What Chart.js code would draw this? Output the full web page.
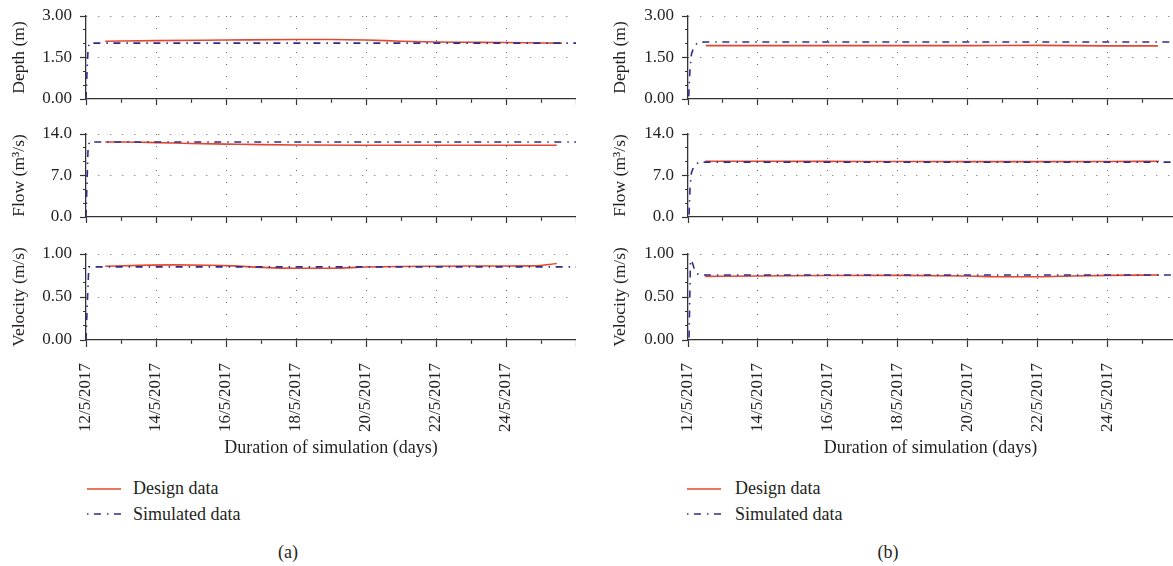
<!DOCTYPE html>
<html>
<head>
<meta charset="utf-8">
<script src="https://cdn.jsdelivr.net/npm/chart.js@4/dist/chart.umd.min.js"></script>
<style>
html,body{margin:0;padding:0;background:#fff;width:1173px;height:566px;overflow:hidden;}
body{position:relative;font-family:"Liberation Serif",serif;color:#231f20;}
canvas{position:absolute;}
.t{position:absolute;font-size:18px;line-height:20px;white-space:nowrap;}
.cap{position:absolute;font-size:18px;line-height:20px;width:60px;text-align:center;}
svg{position:absolute;}
</style>
</head>
<body>
<canvas id="aDepth" width="576" height="105" style="left:0;top:0"></canvas>
<canvas id="aFlow" width="576" height="105" style="left:0;top:118px"></canvas>
<canvas id="aVel" width="576" height="222" style="left:0;top:238px"></canvas>
<canvas id="bDepth" width="572" height="105" style="left:601px;top:0"></canvas>
<canvas id="bFlow" width="572" height="105" style="left:601px;top:118px"></canvas>
<canvas id="bVel" width="572" height="222" style="left:601px;top:238px"></canvas>

<svg style="left:86px;top:478px" width="36" height="44">
  <line x1="1" y1="11" x2="35" y2="11" stroke="#e4472f" stroke-width="1.6"/>
  <line x1="1" y1="36" x2="35" y2="36" stroke="#302c8c" stroke-width="1.6" stroke-dasharray="1.5 5.5 7 6"/>
</svg>
<div class="t" style="left:133px;top:478px">Design data</div>
<div class="t" style="left:133px;top:504px">Simulated data</div>
<div class="cap" style="left:258px;top:542px">(a)</div>

<svg style="left:686px;top:478px" width="36" height="44">
  <line x1="1" y1="11" x2="35" y2="11" stroke="#e4472f" stroke-width="1.6"/>
  <line x1="1" y1="36" x2="35" y2="36" stroke="#302c8c" stroke-width="1.6" stroke-dasharray="1.5 5.5 7 6"/>
</svg>
<div class="t" style="left:735px;top:478px">Design data</div>
<div class="t" style="left:735px;top:504px">Simulated data</div>
<div class="cap" style="left:858px;top:542px">(b)</div>

<script>
// ---- Tick labels (every 2 days, day offset from 12/5/2017) ----
const xTickLabels = ['12/5/2017','14/5/2017','16/5/2017','18/5/2017','20/5/2017','22/5/2017','24/5/2017'];

// ---- Panel (a): days since 12/5/2017 and values ----
const aDepthDesignDays = [0.55, 2, 4, 6, 7, 8, 9, 10, 11, 12, 13.6];
const aDepthDesign     = [2.09, 2.11, 2.13, 2.15, 2.15, 2.13, 2.09, 2.06, 2.05, 2.04, 2.02];
const aDepthSimDays    = [0, 0.03, 0.06, 0.1, 14];
const aDepthSim        = [0, 1.0, 1.85, 2.02, 2.02];

const aFlowDesignDays  = [0.55, 1, 2, 3, 4, 5, 6, 8, 10, 12, 13.45];
const aFlowDesign      = [12.65, 12.65, 12.55, 12.4, 12.3, 12.2, 12.15, 12.1, 12.1, 12.1, 12.1];
const aFlowSimDays     = [0, 0.03, 0.06, 0.1, 14];
const aFlowSim         = [0, 6.0, 11.8, 12.65, 12.65];

const aVelDesignDays   = [0.55, 1.5, 2.5, 3.5, 4.2, 5, 6, 7, 8, 9, 10, 11, 12, 12.8, 13.45];
const aVelDesign       = [0.857, 0.868, 0.874, 0.870, 0.862, 0.845, 0.834, 0.834, 0.848, 0.855, 0.858, 0.860, 0.861, 0.862, 0.890];
const aVelSimDays      = [0, 0.04, 0.08, 14];
const aVelSim          = [0, 0.45, 0.85, 0.85];

// ---- Panel (b) ----
const bDepthDesignDays = [0.51, 2, 4, 6, 8, 10, 12, 13.43];
const bDepthDesign     = [1.93, 1.93, 1.93, 1.93, 1.93, 1.94, 1.92, 1.92];
const bDepthSimDays    = [0.02, 0.06, 0.1, 0.17, 0.25, 0.34, 0.5, 13.86];
const bDepthSim        = [0.1, 1.15, 1.63, 1.88, 2.0, 2.05, 2.06, 2.06];

const bFlowDesignDays  = [0.49, 2, 4, 6, 8, 10, 12, 13.46];
const bFlowDesign      = [9.40, 9.40, 9.38, 9.36, 9.34, 9.34, 9.36, 9.40];
const bFlowSimDays     = [0.03, 0.06, 0.1, 0.17, 0.3, 0.5, 13.86];
const bFlowSim         = [0.4, 5.2, 7.5, 8.6, 9.2, 9.25, 9.25];

const bVelDesignDays   = [0.49, 2, 4, 6, 8, 9, 10, 11, 12, 13.46];
const bVelDesign       = [0.740, 0.745, 0.750, 0.752, 0.745, 0.735, 0.735, 0.745, 0.752, 0.755];
const bVelSimDays      = [0.03, 0.07, 0.1, 0.17, 0.25, 0.4, 13.86];
const bVelSim          = [0.03, 0.92, 0.93, 0.84, 0.77, 0.755, 0.755];

// ---- Styling ----
const FAMILY = 'Liberation Serif';
const TEXT = '#231f20';
const AXIS = '#333333';
const DOT = '#666666';
const RED = '#e4472f';
const SIM = '#302c8c';
const NONE = 'rgba(0,0,0,0)';
Chart.defaults.font.family = FAMILY;
Chart.defaults.color = TEXT;

function pts(xs, ys) { return xs.map((x, i) => ({ x: x, y: ys[i] })); }

function build(id, p) {
  return new Chart(document.getElementById(id), {
    type: 'line',
    data: {
      datasets: [
        { label: 'Simulated data', data: pts(p.simX, p.simY), borderColor: SIM, borderWidth: 1.6,
          borderDash: [7, 6, 1.5, 5.5], pointRadius: 0, tension: 0, fill: false },
        { label: 'Design data', data: pts(p.desX, p.desY), borderColor: RED, borderWidth: 1.6,
          pointRadius: 0, cubicInterpolationMode: 'monotone', fill: false }
      ]
    },
    options: {
      responsive: false, animation: false, events: [],
      layout: { padding: { top: 16, right: 0, bottom: 0, left: 0 } },
      plugins: { legend: { display: false }, tooltip: { enabled: false } },
      scales: {
        x: {
          type: 'linear', min: 0, max: p.xMax, bounds: 'data', position: 'bottom',
          afterFit: s => { s.height = p.xH; s.paddingLeft = 0; s.paddingRight = 0; },
          border: { display: true, color: AXIS, width: 1.3, dash: [1, 11] },
          grid: {
            color: c => (c.tick && c.tick.value % 2 === 0 && c.tick.value > 0 && c.tick.value < 14) ? DOT : NONE,
            lineWidth: 1, drawTicks: true, tickLength: 7, tickColor: AXIS, tickWidth: 1.2,
            tickBorderDash: c => (c.tick && c.tick.value % 2 === 0) ? [] : [3.5, 100]
          },
          ticks: {
            display: p.showX, stepSize: 1, autoSkip: false, maxRotation: 90, minRotation: 90,
            padding: 16, includeBounds: false, color: TEXT, font: { family: FAMILY, size: 17 },
            callback: v => (Number.isInteger(v) && v % 2 === 0 && v / 2 < xTickLabels.length) ? xTickLabels[v / 2] : ''
          },
          title: {
            display: p.showX, text: 'Duration of simulation (days)', color: TEXT,
            font: { family: FAMILY, size: 18 }, padding: { top: 4, bottom: 1 }
          }
        },
        y: {
          min: p.yMin, max: p.yMax,
          afterFit: s => { s.width = p.yW; s.paddingTop = 0; s.paddingBottom = 0; },
          border: { display: true, color: AXIS, width: 1.3, dash: [1, 11] },
          grid: {
            color: c => (c.index === 3 || c.index === 6) ? DOT : NONE,
            lineWidth: 1, tickLength: 6, tickColor: AXIS, tickWidth: 1.2,
            tickBorderDash: c => (c.index % 3 === 0) ? [] : [0, 3, 3, 100]
          },
          ticks: {
            count: 7, autoSkip: false, padding: 8, color: TEXT, font: { family: FAMILY, size: 17 },
            callback: (v, i) => (i % 3 === 0) ? v.toFixed(p.dec) : ''
          },
          title: {
            display: true, text: p.yTitle, color: TEXT, font: { family: FAMILY, size: 17.5 },
            padding: { top: 8.5, bottom: 0 }
          }
        }
      }
    }
  });
}

const A_MAX = 14, B_MAX = 13.86;
build('aDepth', { xMax: A_MAX, xH: 6, showX: false, yMin: 0, yMax: 3, dec: 2, yW: 86, yTitle: 'Depth (m)',
  desX: aDepthDesignDays, desY: aDepthDesign, simX: aDepthSimDays, simY: aDepthSim });
build('aFlow', { xMax: A_MAX, xH: 6, showX: false, yMin: 0, yMax: 14, dec: 1, yW: 86, yTitle: 'Flow (m\u00B3/s)',
  desX: aFlowDesignDays, desY: aFlowDesign, simX: aFlowSimDays, simY: aFlowSim });
build('aVel', { xMax: A_MAX, xH: 120, showX: true, yMin: 0, yMax: 1, dec: 2, yW: 86, yTitle: 'Velocity (m/s)',
  desX: aVelDesignDays, desY: aVelDesign, simX: aVelSimDays, simY: aVelSim });
build('bDepth', { xMax: B_MAX, xH: 6, showX: false, yMin: 0, yMax: 3, dec: 2, yW: 87, yTitle: 'Depth (m)',
  desX: bDepthDesignDays, desY: bDepthDesign, simX: bDepthSimDays, simY: bDepthSim });
build('bFlow', { xMax: B_MAX, xH: 6, showX: false, yMin: 0, yMax: 14, dec: 1, yW: 87, yTitle: 'Flow (m\u00B3/s)',
  desX: bFlowDesignDays, desY: bFlowDesign, simX: bFlowSimDays, simY: bFlowSim });
build('bVel', { xMax: B_MAX, xH: 120, showX: true, yMin: 0, yMax: 1, dec: 2, yW: 87, yTitle: 'Velocity (m/s)',
  desX: bVelDesignDays, desY: bVelDesign, simX: bVelSimDays, simY: bVelSim });
</script>
</body>
</html>
